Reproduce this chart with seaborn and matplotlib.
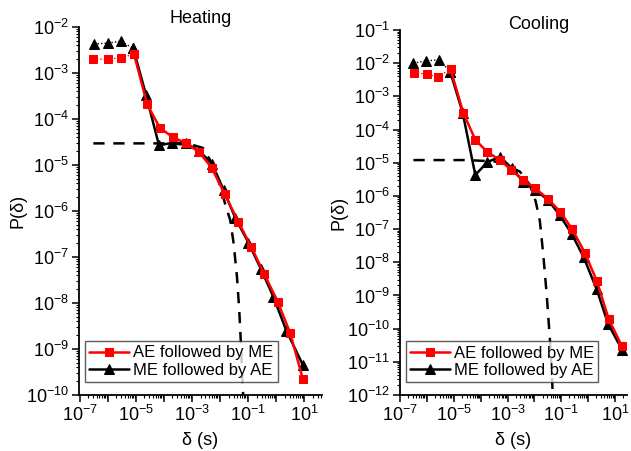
import numpy as np
import pandas as pd
import matplotlib
matplotlib.use("Agg")
import matplotlib.pyplot as plt
import seaborn as sns
from matplotlib.ticker import FixedLocator, FuncFormatter, NullFormatter

# ---------------- data (log10 values) ----------------
# Heating panel
heat_ae_logx = [-6.52, -6.01, -5.55, -5.07, -4.60, -4.14, -3.67, -3.21, -2.75,
                -2.30, -1.83, -1.35, -0.89, -0.43, 0.05, 0.50, 0.95]
heat_ae_logy = [-2.70, -2.70, -2.67, -2.59, -3.68, -4.20, -4.40, -4.53, -4.72,
                -5.06, -5.64, -6.24, -6.78, -7.37, -7.97, -8.66, -9.66]
heat_me_logx = [-6.49, -6.01, -5.55, -5.10, -4.64, -4.18, -3.70, -3.21, -2.75,
                -2.28, -1.88, -1.46, -0.99, -0.54, -0.10, 0.36, 0.95]
heat_me_logy = [-2.37, -2.35, -2.31, -2.46, -3.48, -4.57, -4.52, -4.53, -4.69,
                -4.98, -5.54, -6.15, -6.69, -7.27, -7.87, -8.60, -9.35]
heat_fit_logx = [-6.52, -4.0, -3.0, -2.61, -2.36, -2.24, -2.00, -1.82, -1.64,
                 -1.52, -1.40, -1.32, -1.26, -1.20, -1.18]
heat_fit_logy = [-4.53, -4.53, -4.56, -4.63, -4.89, -5.04, -5.45, -5.85, -6.20,
                 -6.70, -7.43, -8.15, -8.88, -9.75, -10.0]

# Cooling panel
cool_ae_logx = [-6.47, -6.01, -5.58, -5.12, -4.65, -4.20, -3.75, -3.28, -2.86,
                -2.42, -1.97, -1.50, -1.05, -0.60, -0.13, 0.31, 0.76, 1.24]
cool_ae_logy = [-2.29, -2.33, -2.41, -2.18, -3.49, -4.31, -4.68, -4.92, -5.22,
                -5.52, -5.77, -6.09, -6.47, -7.00, -7.71, -8.55, -9.71, -10.51]
cool_me_logx = [-6.50, -6.03, -5.55, -5.13, -4.67, -4.20, -3.75, -3.28, -2.84,
                -2.42, -1.97, -1.50, -1.06, -0.61, -0.17, 0.31, 0.74, 1.26]
cool_me_logy = [-2.00, -1.93, -1.90, -2.26, -3.49, -5.37, -4.98, -4.82, -5.17,
                -5.57, -5.82, -6.12, -6.58, -7.15, -7.85, -8.81, -9.86, -10.64]
cool_fit_logx = [-6.5, -4.5, -3.5, -3.16, -2.54, -2.17, -1.96, -1.80, -1.67,
                 -1.55, -1.46, -1.40, -1.34, -1.32]
cool_fit_logy = [-4.92, -4.92, -4.96, -5.02, -5.27, -5.67, -6.15, -6.75, -7.80,
                 -8.93, -9.94, -10.64, -11.64, -12.0]

titles = ["Heating", "Cooling"]
label_ae = "AE followed by ME"
label_me = "ME followed by AE"
x_label = "δ (s)"
y_label = "P(δ)"

# ---------------- style ----------------
sns.set_style("ticks")
plt.rcParams["font.family"] = ["Liberation Sans", "DejaVu Sans"]
plt.rcParams["mathtext.fontset"] = "custom"
plt.rcParams["mathtext.rm"] = "Liberation Sans"
plt.rcParams["mathtext.it"] = "Liberation Sans:italic"
plt.rcParams["mathtext.bf"] = "Liberation Sans:bold"
for k in ["text.color", "axes.labelcolor", "xtick.color", "ytick.color",
          "axes.edgecolor"]:
    plt.rcParams[k] = "black"

fig = plt.figure(figsize=(6.31, 4.51), dpi=100)
axL = fig.add_axes([79 / 631, 56 / 451, 243 / 631, 368 / 451])
axR = fig.add_axes([400 / 631, 56 / 451, 227 / 631, 365 / 451])


def pw(v):
    return [10.0 ** a for a in v]


def draw_series(ax, lx, ly, color, marker, label, ms, n_dot=4):
    df = pd.DataFrame({"x": pw(lx), "y": pw(ly)})
    head = df.iloc[:n_dot]
    tail = df.iloc[n_dot - 1:]
    sns.lineplot(data=head, x="x", y="y", ax=ax, color=color, lw=1.0,
                 linestyle=(0, (1, 1.5)), marker=marker, markersize=ms,
                 markeredgecolor=color, sort=False, estimator=None, legend=False)
    sns.lineplot(data=tail, x="x", y="y", ax=ax, color=color, lw=1.8,
                 marker=marker, markersize=ms, markeredgecolor=color,
                 sort=False, estimator=None, label=label)


def sup(e):
    return r"$\mathregular{10^{%d}}$" % e


panels = [
    (axL, heat_ae_logx, heat_ae_logy, heat_me_logx, heat_me_logy,
     heat_fit_logx, heat_fit_logy, (-10, -2), (10 ** -7.03, 10 ** 1.63)),
    (axR, cool_ae_logx, cool_ae_logy, cool_me_logx, cool_me_logy,
     cool_fit_logx, cool_fit_logy, (-12, -1), (10 ** -7.0, 10 ** 1.44)),
]

for i, (ax, ax_x, ax_y, mx, my, fx, fy, ylim, xlim) in enumerate(panels):
    ax.set_xscale("log")
    ax.set_yscale("log")
    fit = pd.DataFrame({"x": pw(fx), "y": pw(fy)})
    sns.lineplot(data=fit, x="x", y="y", ax=ax, color="black", lw=1.8,
                 linestyle=(0, (4.5, 3.5)), sort=False, estimator=None,
                 legend=False)
    draw_series(ax, mx, my, "black", "^", label_me, 6.5)
    draw_series(ax, ax_x, ax_y, "#ff0000", "s", label_ae, 5.5)

    ax.set_xlim(*xlim)
    ax.set_ylim(10.0 ** ylim[0], 10.0 ** ylim[1])

    # ticks
    xdec = list(range(-7, 2))
    ax.xaxis.set_major_locator(FixedLocator([10.0 ** e for e in xdec]))
    ax.xaxis.set_major_formatter(FuncFormatter(
        lambda v, p: sup(int(round(np.log10(v)))) if int(round(np.log10(v))) % 2 != 0 else ""))
    xminor = [m * 10.0 ** e for e in range(-8, 2) for m in range(2, 10)]
    ax.xaxis.set_minor_locator(FixedLocator(xminor))
    ax.xaxis.set_minor_formatter(NullFormatter())

    ydec = list(range(ylim[0], ylim[1] + 1))
    ax.yaxis.set_major_locator(FixedLocator([10.0 ** e for e in ydec]))
    ax.yaxis.set_major_formatter(FuncFormatter(
        lambda v, p: sup(int(round(np.log10(v))))))
    yminor = [m * 10.0 ** e for e in range(ylim[0], ylim[1]) for m in range(2, 10)]
    ax.yaxis.set_minor_locator(FixedLocator(yminor))
    ax.yaxis.set_minor_formatter(NullFormatter())

    ax.tick_params(axis="both", which="major", direction="out", length=5,
                   width=1.1, labelsize=13, colors="black", pad=2)
    ax.tick_params(axis="both", which="minor", direction="out", length=2.5,
                   width=0.8, colors="black")
    for s in ["top", "right"]:
        ax.spines[s].set_visible(False)
    for s in ["left", "bottom"]:
        ax.spines[s].set_linewidth(1.3)
        ax.spines[s].set_color("black")

    ax.set_xlabel(x_label, fontsize=13, labelpad=5, color="black")
    ax.set_ylabel(y_label, fontsize=13, labelpad=0, color="black")

    # legend ordering: AE first, ME second
    handles, labels = ax.get_legend_handles_labels()
    order = [labels.index(label_ae), labels.index(label_me)]
    leg = ax.legend([handles[k] for k in order], [labels[k] for k in order],
                    loc="lower left", bbox_to_anchor=(0.025, 0.035),
                    borderaxespad=0, fontsize=12, frameon=True, fancybox=False,
                    handlelength=2.4, handletextpad=0.25, labelspacing=0.15,
                    borderpad=0.25, labelcolor="black")
    leg.get_frame().set_edgecolor("#333333")
    leg.get_frame().set_linewidth(1.0)

axL.text(0.5, 1.0, titles[0], transform=axL.transAxes, ha="center",
         va="bottom", fontsize=13, color="black")
axR.text(0.61, 0.992, titles[1], transform=axR.transAxes, ha="center",
         va="bottom", fontsize=13, color="black")

fig.savefig("out.png", dpi=100)
